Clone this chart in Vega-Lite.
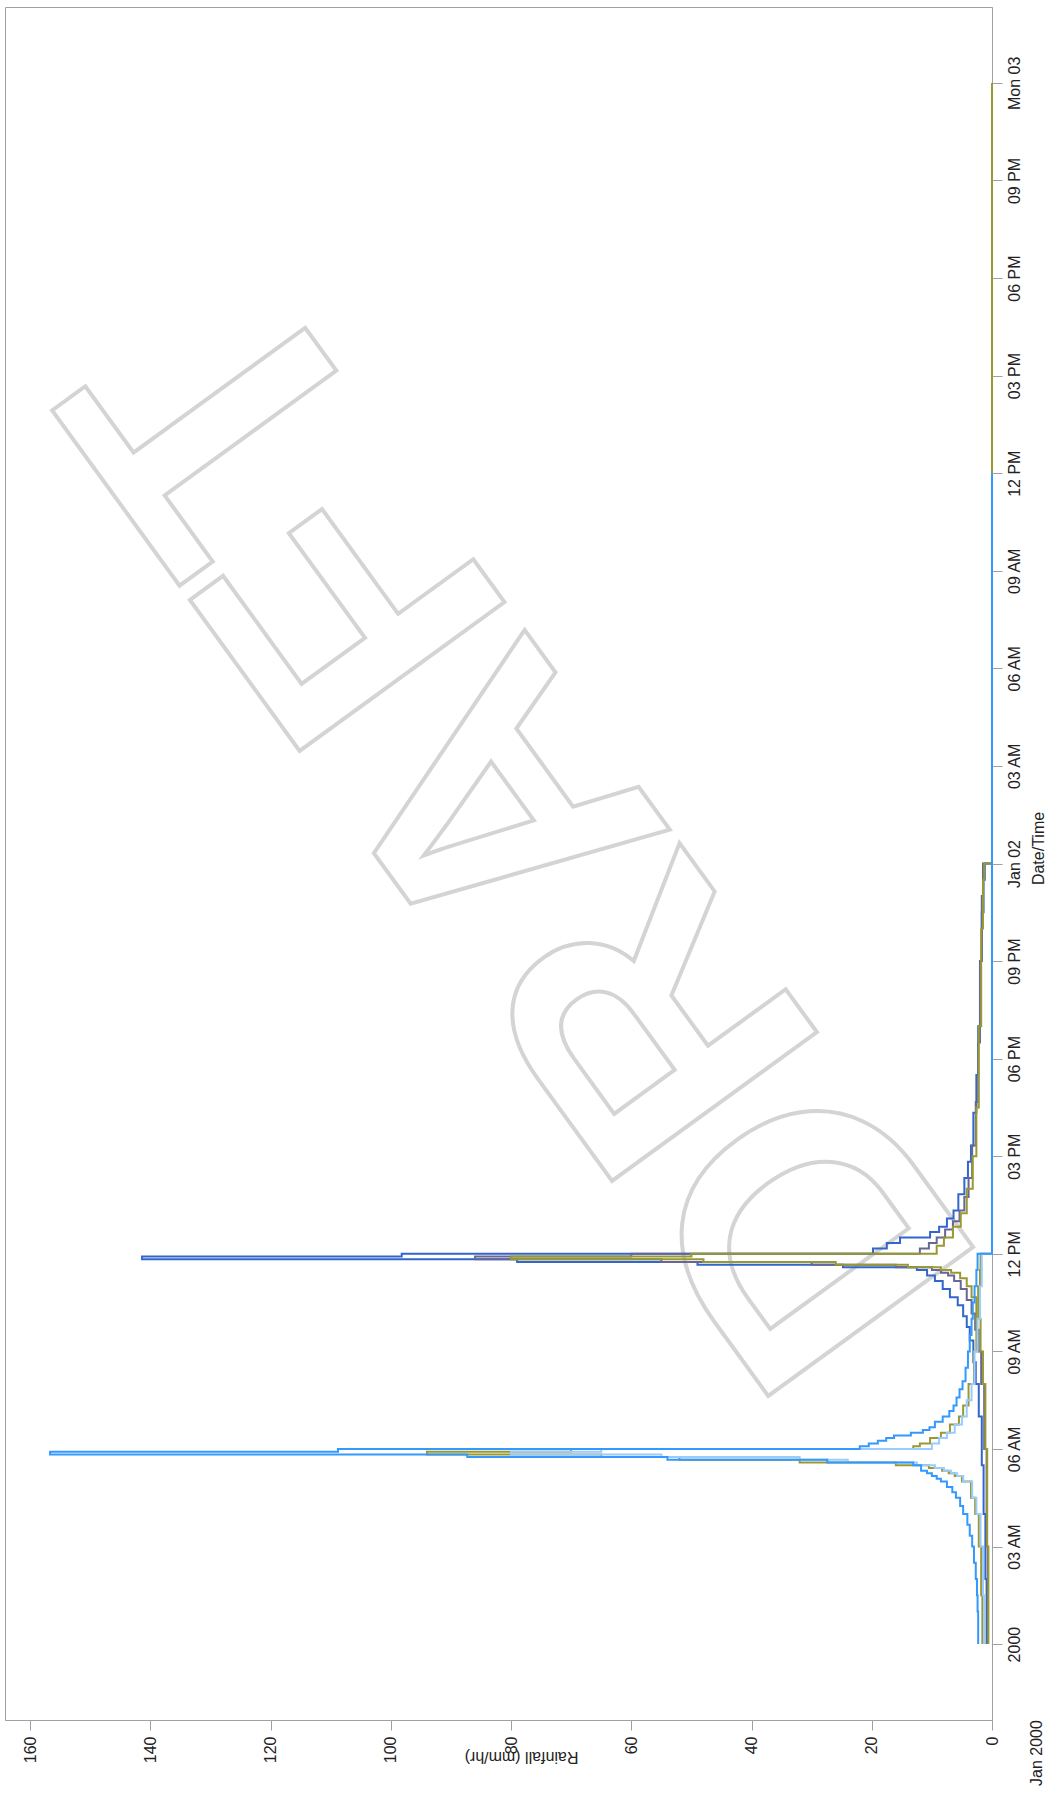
{
  "$schema": "https://vega.github.io/schema/vega-lite/v6.json",
  "width": 987,
  "height": 1713,
  "autosize": "none",
  "padding": {"left": 5, "top": 7, "right": 53, "bottom": 77},
  "background": "white",
  "config": {
    "view": {"stroke": "#a0a0a0", "strokeWidth": 1},
    "font": "Liberation Sans",
    "axis": {
      "grid": false,
      "domainColor": "#a0a0a0",
      "tickColor": "#a0a0a0",
      "labelColor": "#222222",
      "titleColor": "#222222",
      "labelFont": "Liberation Sans",
      "titleFont": "Liberation Sans",
      "labelFontSize": 16,
      "titleFontSize": 16,
      "titleFontWeight": "normal"
    }
  },
  "layer": [
    {
      "data": {"values": [{"label": "DRAFT"}]},
      "mark": {
        "type": "text",
        "angle": 234,
        "align": "center",
        "baseline": "alphabetic",
        "fontSize": 368,
        "font": "Liberation Sans",
        "fontWeight": "bold",
        "fillOpacity": 0,
        "stroke": "#d4d4d4",
        "strokeWidth": 4
      },
      "encoding": {
        "text": {"field": "label"},
        "x": {
          "datum": 61.7, "type": "quantitative",
          "axis": {"orient": "bottom", "title": "Rainfall (mm/hr)", "titleAngle": 180, "titlePadding": 2, "titleX": 516, "values": [0, 20, 40, 60, 80, 100, 120, 140, 160], "labelAngle": 270, "tickSize": 10, "labelPadding": 6}
        },
        "y": {
          "datum": 946782360000, "type": "temporal",
          "axis": {"orient": "right", "title": "Date/Time", "titleAngle": 270, "titlePadding": 24, "titleY": 841, "labelAngle": 270, "tickSize": 10, "labelPadding": 4,
            "values": [946684800000, 946695600000, 946706400000, 946717200000, 946728000000, 946738800000, 946749600000, 946760400000, 946771200000, 946782000000, 946792800000, 946803600000, 946814400000, 946825200000, 946836000000, 946846800000, 946857600000],
            "format": "%-I%p|%-d %a", "formatType": "utc",
            "labelExpr": "indexof(datum.label, '12AM') == 0 ? split(datum.label, '|')[1] : split(datum.label, '|')[0]"}
        }
      }
    },
    {
      "data": {"values": [
      {"s":"B1","t":"2000-01-01T00:00:00Z","r":0.9},
      {"s":"B1","t":"2000-01-01T02:00:00Z","r":1.1},
      {"s":"B1","t":"2000-01-01T04:00:00Z","r":1.4},
      {"s":"B1","t":"2000-01-01T05:30:00Z","r":1.7},
      {"s":"B1","t":"2000-01-01T07:00:00Z","r":2.2},
      {"s":"B1","t":"2000-01-01T08:00:00Z","r":2.7},
      {"s":"B1","t":"2000-01-01T08:40:00Z","r":3.1},
      {"s":"B1","t":"2000-01-01T09:20:00Z","r":3.7},
      {"s":"B1","t":"2000-01-01T09:45:00Z","r":4.2},
      {"s":"B1","t":"2000-01-01T10:05:00Z","r":4.8},
      {"s":"B1","t":"2000-01-01T10:25:00Z","r":5.7},
      {"s":"B1","t":"2000-01-01T10:40:00Z","r":7.0},
      {"s":"B1","t":"2000-01-01T10:55:00Z","r":8.2},
      {"s":"B1","t":"2000-01-01T11:10:00Z","r":9.5},
      {"s":"B1","t":"2000-01-01T11:20:00Z","r":10.8},
      {"s":"B1","t":"2000-01-01T11:30:00Z","r":12.5},
      {"s":"B1","t":"2000-01-01T11:35:00Z","r":24.8},
      {"s":"B1","t":"2000-01-01T11:40:00Z","r":49.0},
      {"s":"B1","t":"2000-01-01T11:45:00Z","r":79.0},
      {"s":"B1","t":"2000-01-01T11:50:00Z","r":141.4},
      {"s":"B1","t":"2000-01-01T11:55:00Z","r":98.2},
      {"s":"B1","t":"2000-01-01T12:00:00Z","r":19.8},
      {"s":"B1","t":"2000-01-01T12:10:00Z","r":17.5},
      {"s":"B1","t":"2000-01-01T12:20:00Z","r":15.3},
      {"s":"B1","t":"2000-01-01T12:30:00Z","r":10.3},
      {"s":"B1","t":"2000-01-01T12:40:00Z","r":8.8},
      {"s":"B1","t":"2000-01-01T12:50:00Z","r":7.5},
      {"s":"B1","t":"2000-01-01T13:05:00Z","r":6.4},
      {"s":"B1","t":"2000-01-01T13:20:00Z","r":5.6},
      {"s":"B1","t":"2000-01-01T13:50:00Z","r":4.6},
      {"s":"B1","t":"2000-01-01T14:20:00Z","r":4.0},
      {"s":"B1","t":"2000-01-01T14:50:00Z","r":3.5},
      {"s":"B1","t":"2000-01-01T15:20:00Z","r":3.1},
      {"s":"B1","t":"2000-01-01T16:20:00Z","r":2.6},
      {"s":"B1","t":"2000-01-01T17:30:00Z","r":2.3},
      {"s":"B1","t":"2000-01-01T19:00:00Z","r":2.0},
      {"s":"B1","t":"2000-01-01T21:00:00Z","r":1.7},
      {"s":"B1","t":"2000-01-01T22:30:00Z","r":1.4},
      {"s":"B1","t":"2000-01-01T23:30:00Z","r":1.2},
      {"s":"B1","t":"2000-01-02T00:00:00Z","r":0},
      {"s":"B1","t":"2000-01-03T00:00:00Z","r":0},

      {"s":"B2","t":"2000-01-01T00:00:00Z","r":0.7},
      {"s":"B2","t":"2000-01-01T03:00:00Z","r":0.9},
      {"s":"B2","t":"2000-01-01T06:00:00Z","r":1.3},
      {"s":"B2","t":"2000-01-01T08:00:00Z","r":1.8},
      {"s":"B2","t":"2000-01-01T09:00:00Z","r":2.2},
      {"s":"B2","t":"2000-01-01T09:40:00Z","r":2.8},
      {"s":"B2","t":"2000-01-01T10:10:00Z","r":3.4},
      {"s":"B2","t":"2000-01-01T10:35:00Z","r":4.2},
      {"s":"B2","t":"2000-01-01T10:55:00Z","r":5.2},
      {"s":"B2","t":"2000-01-01T11:10:00Z","r":6.3},
      {"s":"B2","t":"2000-01-01T11:20:00Z","r":7.3},
      {"s":"B2","t":"2000-01-01T11:25:00Z","r":8.5},
      {"s":"B2","t":"2000-01-01T11:30:00Z","r":10.0},
      {"s":"B2","t":"2000-01-01T11:35:00Z","r":16.0},
      {"s":"B2","t":"2000-01-01T11:40:00Z","r":30.0},
      {"s":"B2","t":"2000-01-01T11:45:00Z","r":55.0},
      {"s":"B2","t":"2000-01-01T11:50:00Z","r":86.0},
      {"s":"B2","t":"2000-01-01T11:55:00Z","r":60.0},
      {"s":"B2","t":"2000-01-01T12:00:00Z","r":12.0},
      {"s":"B2","t":"2000-01-01T12:10:00Z","r":10.5},
      {"s":"B2","t":"2000-01-01T12:20:00Z","r":9.2},
      {"s":"B2","t":"2000-01-01T12:30:00Z","r":7.8},
      {"s":"B2","t":"2000-01-01T12:45:00Z","r":6.5},
      {"s":"B2","t":"2000-01-01T13:00:00Z","r":5.4},
      {"s":"B2","t":"2000-01-01T13:20:00Z","r":4.6},
      {"s":"B2","t":"2000-01-01T13:45:00Z","r":3.9},
      {"s":"B2","t":"2000-01-01T14:20:00Z","r":3.3},
      {"s":"B2","t":"2000-01-01T15:20:00Z","r":2.7},
      {"s":"B2","t":"2000-01-01T16:40:00Z","r":2.3},
      {"s":"B2","t":"2000-01-01T18:30:00Z","r":2.0},
      {"s":"B2","t":"2000-01-01T21:00:00Z","r":1.7},
      {"s":"B2","t":"2000-01-01T23:00:00Z","r":1.5},
      {"s":"B2","t":"2000-01-02T00:00:00Z","r":0},
      {"s":"B2","t":"2000-01-03T00:00:00Z","r":0},

      {"s":"B3","t":"2000-01-01T00:00:00Z","r":0.6},
      {"s":"B3","t":"2000-01-01T03:00:00Z","r":0.8},
      {"s":"B3","t":"2000-01-01T06:00:00Z","r":1.1},
      {"s":"B3","t":"2000-01-01T08:00:00Z","r":1.5},
      {"s":"B3","t":"2000-01-01T09:00:00Z","r":1.9},
      {"s":"B3","t":"2000-01-01T10:00:00Z","r":2.6},
      {"s":"B3","t":"2000-01-01T10:40:00Z","r":3.4},
      {"s":"B3","t":"2000-01-01T11:00:00Z","r":4.2},
      {"s":"B3","t":"2000-01-01T11:15:00Z","r":5.3},
      {"s":"B3","t":"2000-01-01T11:25:00Z","r":6.8},
      {"s":"B3","t":"2000-01-01T11:30:00Z","r":8.5},
      {"s":"B3","t":"2000-01-01T11:35:00Z","r":14.0},
      {"s":"B3","t":"2000-01-01T11:40:00Z","r":26.0},
      {"s":"B3","t":"2000-01-01T11:45:00Z","r":48.0},
      {"s":"B3","t":"2000-01-01T11:50:00Z","r":80.0},
      {"s":"B3","t":"2000-01-01T11:55:00Z","r":50.0},
      {"s":"B3","t":"2000-01-01T12:00:00Z","r":9.2},
      {"s":"B3","t":"2000-01-01T12:15:00Z","r":8.0},
      {"s":"B3","t":"2000-01-01T12:30:00Z","r":6.5},
      {"s":"B3","t":"2000-01-01T12:50:00Z","r":5.2},
      {"s":"B3","t":"2000-01-01T13:15:00Z","r":4.2},
      {"s":"B3","t":"2000-01-01T14:00:00Z","r":3.2},
      {"s":"B3","t":"2000-01-01T15:00:00Z","r":2.6},
      {"s":"B3","t":"2000-01-01T16:30:00Z","r":2.2},
      {"s":"B3","t":"2000-01-01T19:00:00Z","r":1.8},
      {"s":"B3","t":"2000-01-01T22:00:00Z","r":1.5},
      {"s":"B3","t":"2000-01-01T23:30:00Z","r":1.3},
      {"s":"B3","t":"2000-01-02T00:00:00Z","r":0},
      {"s":"B3","t":"2000-01-03T00:00:00Z","r":0},

      {"s":"A3","t":"2000-01-01T00:00:00Z","r":1.6},
      {"s":"A3","t":"2000-01-01T01:30:00Z","r":1.8},
      {"s":"A3","t":"2000-01-01T03:00:00Z","r":2.2},
      {"s":"A3","t":"2000-01-01T04:00:00Z","r":2.8},
      {"s":"A3","t":"2000-01-01T04:30:00Z","r":3.5},
      {"s":"A3","t":"2000-01-01T05:00:00Z","r":5.0},
      {"s":"A3","t":"2000-01-01T05:10:00Z","r":6.2},
      {"s":"A3","t":"2000-01-01T05:15:00Z","r":7.2},
      {"s":"A3","t":"2000-01-01T05:20:00Z","r":8.3},
      {"s":"A3","t":"2000-01-01T05:25:00Z","r":10.5},
      {"s":"A3","t":"2000-01-01T05:30:00Z","r":16.0},
      {"s":"A3","t":"2000-01-01T05:35:00Z","r":32.0},
      {"s":"A3","t":"2000-01-01T05:40:00Z","r":52.0},
      {"s":"A3","t":"2000-01-01T05:45:00Z","r":65.0},
      {"s":"A3","t":"2000-01-01T05:50:00Z","r":94.0},
      {"s":"A3","t":"2000-01-01T05:55:00Z","r":70.0},
      {"s":"A3","t":"2000-01-01T06:00:00Z","r":13.1},
      {"s":"A3","t":"2000-01-01T06:05:00Z","r":12.0},
      {"s":"A3","t":"2000-01-01T06:10:00Z","r":10.3},
      {"s":"A3","t":"2000-01-01T06:20:00Z","r":8.5},
      {"s":"A3","t":"2000-01-01T06:30:00Z","r":7.0},
      {"s":"A3","t":"2000-01-01T06:45:00Z","r":5.5},
      {"s":"A3","t":"2000-01-01T07:00:00Z","r":4.8},
      {"s":"A3","t":"2000-01-01T07:20:00Z","r":3.9},
      {"s":"A3","t":"2000-01-01T08:00:00Z","r":3.0},
      {"s":"A3","t":"2000-01-01T09:00:00Z","r":2.6},
      {"s":"A3","t":"2000-01-01T10:00:00Z","r":2.3},
      {"s":"A3","t":"2000-01-01T11:00:00Z","r":2.0},
      {"s":"A3","t":"2000-01-01T11:30:00Z","r":1.9},
      {"s":"A3","t":"2000-01-01T12:00:00Z","r":0},
      {"s":"A3","t":"2000-01-02T12:00:00Z","r":0},

      {"s":"A2","t":"2000-01-01T00:00:00Z","r":1.3},
      {"s":"A2","t":"2000-01-01T01:30:00Z","r":1.5},
      {"s":"A2","t":"2000-01-01T03:00:00Z","r":1.9},
      {"s":"A2","t":"2000-01-01T04:00:00Z","r":2.6},
      {"s":"A2","t":"2000-01-01T04:30:00Z","r":3.3},
      {"s":"A2","t":"2000-01-01T05:00:00Z","r":4.8},
      {"s":"A2","t":"2000-01-01T05:10:00Z","r":5.8},
      {"s":"A2","t":"2000-01-01T05:15:00Z","r":6.8},
      {"s":"A2","t":"2000-01-01T05:20:00Z","r":8.0},
      {"s":"A2","t":"2000-01-01T05:25:00Z","r":9.5},
      {"s":"A2","t":"2000-01-01T05:30:00Z","r":12.5},
      {"s":"A2","t":"2000-01-01T05:35:00Z","r":24.0},
      {"s":"A2","t":"2000-01-01T05:40:00Z","r":32.0},
      {"s":"A2","t":"2000-01-01T05:45:00Z","r":55.0},
      {"s":"A2","t":"2000-01-01T05:50:00Z","r":80.0},
      {"s":"A2","t":"2000-01-01T05:55:00Z","r":65.0},
      {"s":"A2","t":"2000-01-01T06:00:00Z","r":10.0},
      {"s":"A2","t":"2000-01-01T06:10:00Z","r":8.8},
      {"s":"A2","t":"2000-01-01T06:20:00Z","r":7.5},
      {"s":"A2","t":"2000-01-01T06:30:00Z","r":6.2},
      {"s":"A2","t":"2000-01-01T06:45:00Z","r":5.0},
      {"s":"A2","t":"2000-01-01T07:00:00Z","r":4.2},
      {"s":"A2","t":"2000-01-01T07:30:00Z","r":3.4},
      {"s":"A2","t":"2000-01-01T08:00:00Z","r":2.9},
      {"s":"A2","t":"2000-01-01T09:00:00Z","r":2.4},
      {"s":"A2","t":"2000-01-01T10:00:00Z","r":2.0},
      {"s":"A2","t":"2000-01-01T11:00:00Z","r":1.7},
      {"s":"A2","t":"2000-01-01T12:00:00Z","r":0},
      {"s":"A2","t":"2000-01-02T12:00:00Z","r":0},

      {"s":"A1","t":"2000-01-01T00:00:00Z","r":2.3},
      {"s":"A1","t":"2000-01-01T01:00:00Z","r":2.4},
      {"s":"A1","t":"2000-01-01T01:30:00Z","r":2.5},
      {"s":"A1","t":"2000-01-01T02:00:00Z","r":2.7},
      {"s":"A1","t":"2000-01-01T02:30:00Z","r":3.0},
      {"s":"A1","t":"2000-01-01T03:00:00Z","r":3.3},
      {"s":"A1","t":"2000-01-01T03:20:00Z","r":3.7},
      {"s":"A1","t":"2000-01-01T03:40:00Z","r":4.1},
      {"s":"A1","t":"2000-01-01T04:00:00Z","r":4.8},
      {"s":"A1","t":"2000-01-01T04:15:00Z","r":5.3},
      {"s":"A1","t":"2000-01-01T04:30:00Z","r":6.0},
      {"s":"A1","t":"2000-01-01T04:40:00Z","r":6.6},
      {"s":"A1","t":"2000-01-01T04:50:00Z","r":7.5},
      {"s":"A1","t":"2000-01-01T05:00:00Z","r":8.5},
      {"s":"A1","t":"2000-01-01T05:05:00Z","r":9.2},
      {"s":"A1","t":"2000-01-01T05:10:00Z","r":10.0},
      {"s":"A1","t":"2000-01-01T05:15:00Z","r":10.8},
      {"s":"A1","t":"2000-01-01T05:20:00Z","r":11.8},
      {"s":"A1","t":"2000-01-01T05:30:00Z","r":13.1},
      {"s":"A1","t":"2000-01-01T05:35:00Z","r":27.4},
      {"s":"A1","t":"2000-01-01T05:40:00Z","r":54.0},
      {"s":"A1","t":"2000-01-01T05:45:00Z","r":87.3},
      {"s":"A1","t":"2000-01-01T05:50:00Z","r":156.7},
      {"s":"A1","t":"2000-01-01T05:55:00Z","r":108.8},
      {"s":"A1","t":"2000-01-01T06:00:00Z","r":22.0},
      {"s":"A1","t":"2000-01-01T06:05:00Z","r":20.5},
      {"s":"A1","t":"2000-01-01T06:10:00Z","r":19.0},
      {"s":"A1","t":"2000-01-01T06:15:00Z","r":17.6},
      {"s":"A1","t":"2000-01-01T06:20:00Z","r":16.3},
      {"s":"A1","t":"2000-01-01T06:25:00Z","r":13.5},
      {"s":"A1","t":"2000-01-01T06:30:00Z","r":11.5},
      {"s":"A1","t":"2000-01-01T06:35:00Z","r":10.4},
      {"s":"A1","t":"2000-01-01T06:40:00Z","r":9.5},
      {"s":"A1","t":"2000-01-01T06:50:00Z","r":8.2},
      {"s":"A1","t":"2000-01-01T07:00:00Z","r":7.1},
      {"s":"A1","t":"2000-01-01T07:10:00Z","r":6.4},
      {"s":"A1","t":"2000-01-01T07:20:00Z","r":5.9},
      {"s":"A1","t":"2000-01-01T07:35:00Z","r":5.4},
      {"s":"A1","t":"2000-01-01T07:50:00Z","r":4.9},
      {"s":"A1","t":"2000-01-01T08:05:00Z","r":4.4},
      {"s":"A1","t":"2000-01-01T08:30:00Z","r":4.0},
      {"s":"A1","t":"2000-01-01T09:00:00Z","r":3.7},
      {"s":"A1","t":"2000-01-01T09:30:00Z","r":3.4},
      {"s":"A1","t":"2000-01-01T10:00:00Z","r":3.2},
      {"s":"A1","t":"2000-01-01T10:30:00Z","r":2.9},
      {"s":"A1","t":"2000-01-01T11:00:00Z","r":2.6},
      {"s":"A1","t":"2000-01-01T11:30:00Z","r":2.4},
      {"s":"A1","t":"2000-01-01T12:00:00Z","r":0},
      {"s":"A1","t":"2000-01-02T12:00:00Z","r":0}
      ]},
      "mark": {"type": "line", "interpolate": "step-after", "strokeWidth": 2},
      "encoding": {
        "x": {
          "field": "r",
          "type": "quantitative",
          "scale": {"domain": [0, 164.2], "reverse": true, "nice": false, "zero": false},
          "axis": {"orient": "bottom", "title": "Rainfall (mm/hr)", "titleAngle": 180, "titlePadding": 2, "titleX": 516, "values": [0, 20, 40, 60, 80, 100, 120, 140, 160], "labelAngle": 270, "tickSize": 10, "labelPadding": 6}
        },
        "y": {
          "field": "t",
          "type": "temporal",
          "scale": {
            "type": "utc",
            "nice": false,
            "domain": [946676400000, 946866000000]
          },
          "axis": {"orient": "right", "title": "Date/Time", "titleAngle": 270, "titlePadding": 24, "titleY": 841, "labelAngle": 270, "tickSize": 10, "labelPadding": 4,
            "values": [946684800000, 946695600000, 946706400000, 946717200000, 946728000000, 946738800000, 946749600000, 946760400000, 946771200000, 946782000000, 946792800000, 946803600000, 946814400000, 946825200000, 946836000000, 946846800000, 946857600000],
            "format": "%-I%p|%-d %a", "formatType": "utc",
            "labelExpr": "indexof(datum.label, '12AM') == 0 ? split(datum.label, '|')[1] : split(datum.label, '|')[0]"}
        },
        "color": {
          "field": "s",
          "type": "nominal",
          "scale": {
            "domain": ["B1", "B3", "B2", "A3", "A2", "A1"],
            "range": ["#3366cc", "#999933", "#666699", "#999933", "#99ccff", "#3399ff"]
          },
          "legend": null
        }
      }
    },
    {
      "data": {"values": [{"label": "Jan 2000"}]},
      "mark": {"type": "text", "angle": 270, "align": "center", "baseline": "middle", "fontSize": 16, "font": "Liberation Sans", "color": "#222222"},
      "encoding": {
        "text": {"field": "label"},
        "x": {
          "datum": -7.48, "type": "quantitative",
          "axis": {"orient": "bottom", "title": "Rainfall (mm/hr)", "titleAngle": 180, "titlePadding": 2, "titleX": 516, "values": [0, 20, 40, 60, 80, 100, 120, 140, 160], "labelAngle": 270, "tickSize": 10, "labelPadding": 6}
        },
        "y": {
          "datum": 946672740000, "type": "temporal",
          "axis": {"orient": "right", "title": "Date/Time", "titleAngle": 270, "titlePadding": 24, "titleY": 841, "labelAngle": 270, "tickSize": 10, "labelPadding": 4,
            "values": [946684800000, 946695600000, 946706400000, 946717200000, 946728000000, 946738800000, 946749600000, 946760400000, 946771200000, 946782000000, 946792800000, 946803600000, 946814400000, 946825200000, 946836000000, 946846800000, 946857600000],
            "format": "%-I%p|%-d %a", "formatType": "utc",
            "labelExpr": "indexof(datum.label, '12AM') == 0 ? split(datum.label, '|')[1] : split(datum.label, '|')[0]"}
        }
      }
    }
  ]
}
